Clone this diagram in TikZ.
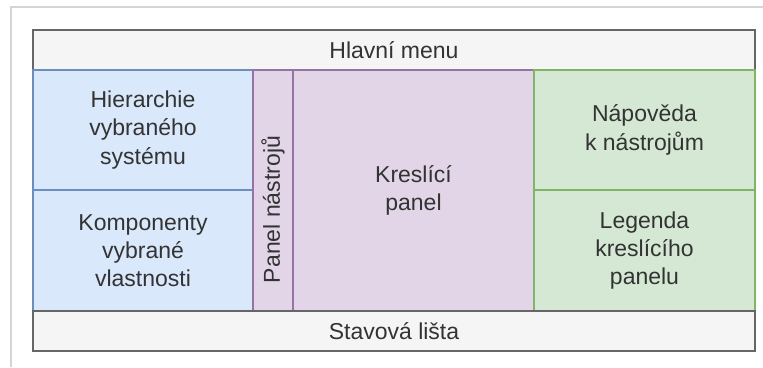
\documentclass[tikz,border=0pt]{standalone}
\usepackage{fontspec}
\setmainfont{Liberation Sans}
\usepackage{xcolor}
\usetikzlibrary{positioning}

\definecolor{barfill}{HTML}{F5F5F5}
\definecolor{bardraw}{HTML}{666666}
\definecolor{bluefill}{HTML}{DAE8FC}
\definecolor{bluedraw}{HTML}{6C8EBF}
\definecolor{violetfill}{HTML}{E1D5E7}
\definecolor{violetdraw}{HTML}{9673A6}
\definecolor{greenfill}{HTML}{D5E8D4}
\definecolor{greendraw}{HTML}{82B366}
\definecolor{txtgray}{HTML}{333333}
\definecolor{edgegray}{HTML}{D4D4D4}

\begin{document}
\begin{tikzpicture}[
    x=1pt, y=-1pt,
    node distance=0pt,
    area/.style={rectangle, inner sep=0pt, outer sep=0pt, line width=1.2pt,
                 align=center, text=txtgray, font=\fontsize{23}{28.3}\selectfont},
    bar/.style={area, fill=barfill, draw=bardraw, minimum width=722pt, minimum height=40pt},
    bluebox/.style={area, fill=bluefill, draw=bluedraw, minimum width=220pt},
    violetbox/.style={area, fill=violetfill, draw=violetdraw, minimum height=241pt},
    greenbox/.style={area, fill=greenfill, draw=greendraw, minimum width=221pt},
]
\useasboundingbox (0,0) rectangle (763,367);
% window edge
\coordinate (edgetop) at (763,7);
\coordinate (edgecorner) at (11,7);
\coordinate (edgebottom) at (11,367);
\draw[edgegray, line width=1.5pt] (edgetop) -- (edgecorner) -- (edgebottom);

\node[bar, anchor=north west] (menu) at (33,30) {Hlavní menu};
\node[bluebox, minimum height=120pt, below right=of menu.south west] (hier) {Hierarchie\\vybraného\\systému};
\node[bluebox, minimum height=121pt, below=of hier] (komp) {Komponenty\\vybrané\\vlastnosti};
\node[violetbox, minimum width=40pt, right=of hier.north east, anchor=north west] (tools) {};
\node[violetbox, minimum width=241pt, right=of tools] (canvas) {Kreslící\\panel};
\node[greenbox, minimum height=120pt, right=of canvas.north east, anchor=north west] (help) {Nápověda\\k nástrojům};
\node[greenbox, minimum height=121pt, below=of help] (legend) {Legenda\\kreslícího\\panelu};
\node[bar, below right=of komp.south west] (status) {Stavová lišta};

\node[area, rotate=90] (toolslabel) at ([yshift=-19pt]tools.center) {Panel nástrojů};
\end{tikzpicture}
\end{document}
